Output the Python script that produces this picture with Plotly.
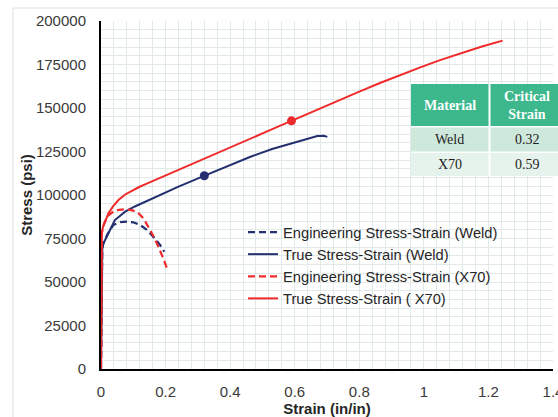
import numpy as np
import plotly.graph_objects as go

# ---- data -------------------------------------------------------------
# True stress-strain, X70
x70_true_strain = [0.0, 0.0025, 0.006, 0.012, 0.023, 0.038, 0.054, 0.075, 0.095, 0.115, 0.14, 0.189,
                   0.25, 0.323, 0.40, 0.48, 0.55, 0.606, 0.68, 0.742, 0.80, 0.866, 0.93,
                   0.991, 1.05, 1.115, 1.18, 1.244]
x70_true_stress = [0, 78000, 81500, 84700, 89500, 93600, 97100, 100300, 102400, 104300, 106400, 110400,
                   115200, 121100, 127300, 133700, 139400, 143900, 149900, 154800, 159400, 164500, 169200,
                   173500, 177500, 181600, 185300, 188700]

# True stress-strain, weld
weld_true_strain = [0.0, 0.004, 0.007, 0.013, 0.023, 0.043, 0.075, 0.105, 0.137, 0.19, 0.24,
                    0.323, 0.40, 0.463, 0.53, 0.608, 0.64, 0.67, 0.69, 0.701]
weld_true_stress = [0, 69000, 72000, 74500, 78000, 85600, 90400, 93400, 96100, 100500, 104800,
                    111300, 117300, 122000, 126400, 130600, 132600, 133900, 134000, 133400]

# Engineering stress-strain, X70
x70_eng_strain = [0.0, 0.0025, 0.006, 0.012, 0.023, 0.038, 0.055, 0.08, 0.10, 0.116, 0.132,
                  0.147, 0.16, 0.173, 0.183, 0.193, 0.206]
x70_eng_stress = [0, 78000, 81500, 84700, 88300, 90400, 91500, 91800, 91000, 89500, 86500,
                  81800, 77200, 72200, 68000, 63600, 56900]

# Engineering stress-strain, weld
weld_eng_strain = [0.0, 0.004, 0.007, 0.013, 0.02, 0.038, 0.06, 0.08, 0.10, 0.121, 0.14,
                   0.157, 0.17, 0.183, 0.196]
weld_eng_stress = [0, 69000, 72000, 74500, 77500, 82800, 84400, 84700, 84300, 82800, 80300,
                   77000, 74300, 71300, 67400]

# Critical strain table
table_header = ["Material", "Critical<br>Strain"]
materials = ["Weld", "X70"]
critical_strain = [0.32, 0.59]

# axis ticks
x_ticks = [0, 0.2, 0.4, 0.6, 0.8, 1.0, 1.2, 1.4]
y_ticks = [0, 25000, 50000, 75000, 100000, 125000, 150000, 175000, 200000]

# ---- styling ----------------------------------------------------------
NAVY = "#232f6e"
RED = "#f02a2a"
GRID = "#e2e9e9"
SANS = "Liberation Sans, Arial, sans-serif"
SERIF = "Liberation Serif, Times New Roman, serif"
HEAD_FILL = "#3cb88c"
ROW_FILLS = ["#cfe8dc", "#e6f3ec"]

W, H = 558, 417
ML, MR, MT, MB = 101, 0, 21, 48
PW = W - ML - MR          # paper width in px
PH = H - MT - MB          # paper height in px
AXIS_RIGHT = 553          # x pixel where the strain axis ends


def px_x(px):
    return (px - ML) / PW


def px_y(py):
    return (H - MB - py) / PH


fig = go.Figure()

fig.add_trace(go.Scatter(x=weld_eng_strain, y=weld_eng_stress, mode="lines",
                         name="Engineering Stress-Strain (Weld)",
                         line=dict(color=NAVY, width=2.2, dash="7px,4px")))
fig.add_trace(go.Scatter(x=weld_true_strain, y=weld_true_stress, mode="lines",
                         name="True Stress-Strain (Weld)",
                         line=dict(color=NAVY, width=2)))
fig.add_trace(go.Scatter(x=x70_eng_strain, y=x70_eng_stress, mode="lines",
                         name="Engineering Stress-Strain (X70)",
                         line=dict(color=RED, width=2.2, dash="7px,4px")))
fig.add_trace(go.Scatter(x=x70_true_strain, y=x70_true_stress, mode="lines",
                         name="True Stress-Strain ( X70)",
                         line=dict(color=RED, width=2)))

# critical-strain points on the true curves
weld_crit_stress = float(np.interp(critical_strain[0], weld_true_strain, weld_true_stress))
x70_crit_stress = float(np.interp(critical_strain[1], x70_true_strain, x70_true_stress))
fig.add_trace(go.Scatter(x=[critical_strain[0]], y=[weld_crit_stress], mode="markers",
                         showlegend=False, marker=dict(color=NAVY, size=9)))
fig.add_trace(go.Scatter(x=[critical_strain[1]], y=[x70_crit_stress], mode="markers",
                         showlegend=False, marker=dict(color=RED, size=9)))

# ---- critical strain table (cells as shapes, text as annotations) -----
col_edges = [(411, 488.5), (490.5, 572)]
head_rows = (84, 126)
body_rows = [(127.5, 151.5), (153, 176)]

shapes = [
    # chart frame
    dict(type="rect", xref="paper", yref="paper",
         x0=px_x(13), x1=px_x(700), y0=px_y(600), y1=px_y(8),
         line=dict(color="#dcdcdc", width=1), fillcolor="rgba(0,0,0,0)", layer="below"),
    # white backing behind the table
    dict(type="rect", xref="paper", yref="paper",
         x0=px_x(col_edges[0][0]), x1=px_x(col_edges[1][1]),
         y0=px_y(body_rows[-1][1]), y1=px_y(head_rows[0]),
         line=dict(width=0), fillcolor="white", layer="above"),
]
annotations = []


def cell(x_span, y_span, fill, text, font):
    shapes.append(dict(type="rect", xref="paper", yref="paper",
                       x0=px_x(x_span[0]), x1=px_x(x_span[1]),
                       y0=px_y(y_span[1]), y1=px_y(y_span[0]),
                       line=dict(width=0), fillcolor=fill, layer="above"))
    cx = (x_span[0] + min(x_span[1], 564)) / 2
    cy = (y_span[0] + y_span[1]) / 2
    annotations.append(dict(xref="paper", yref="paper", x=px_x(cx), y=px_y(cy),
                            text=text, showarrow=False, xanchor="center", yanchor="middle",
                            align="center", font=font))


head_font = dict(family=SERIF, size=14, color="white")
body_font = dict(family=SERIF, size=14, color="#1e1e1e")
for c, label in enumerate(table_header):
    cell(col_edges[c], head_rows, HEAD_FILL, f"<b>{label}</b>", head_font)
for r, (mat, crit) in enumerate(zip(materials, critical_strain)):
    cell(col_edges[0], body_rows[r], ROW_FILLS[r], mat, body_font)
    cell(col_edges[1], body_rows[r], ROW_FILLS[r], f"{crit:.2f}", body_font)

fig.update_layout(
    width=W, height=H,
    margin=dict(l=ML, r=MR, t=MT, b=MB, pad=0, autoexpand=False),
    paper_bgcolor="white", plot_bgcolor="white",
    font=dict(family=SANS, size=15, color="#3a3a3a"),
    showlegend=True,
    legend=dict(x=px_x(243), y=px_y(216), xanchor="left", yanchor="top",
                bgcolor="rgba(0,0,0,0)", borderwidth=0,
                font=dict(family=SANS, size=14.7, color="#262626"),
                itemwidth=30, tracegroupgap=0),
    shapes=shapes,
    annotations=annotations,
)

fig.update_xaxes(
    range=[0, 1.4], domain=[0, (AXIS_RIGHT - ML) / PW],
    tickvals=x_ticks, ticktext=[f"{v:g}" for v in x_ticks],
    ticklabeloverflow="allow", automargin=False,
    showgrid=True, gridcolor=GRID, gridwidth=1,
    minor=dict(dtick=0.04, showgrid=True, gridcolor=GRID, gridwidth=1),
    zeroline=False, showline=True, linecolor="black", linewidth=2,
    ticks="", ticklabelstandoff=8,
    tickfont=dict(family=SANS, size=15, color="#3a3a3a"),
    title=dict(text="<b>Strain (in/in)</b>", standoff=5,
               font=dict(family=SANS, size=15, color="#262626")),
)
fig.update_yaxes(
    range=[0, 200000], automargin=False,
    tickvals=y_ticks, ticktext=[str(v) for v in y_ticks],
    showgrid=True, gridcolor=GRID, gridwidth=1,
    minor=dict(dtick=5000, showgrid=True, gridcolor=GRID, gridwidth=1),
    zeroline=False, showline=True, linecolor="black", linewidth=2,
    ticks="", ticklabelstandoff=10,
    tickfont=dict(family=SANS, size=15, color="#3a3a3a"),
    title=dict(text="<b>Stress (psi)</b>", standoff=0,
               font=dict(family=SANS, size=15, color="#262626")),
)

fig.write_html("out.html")
